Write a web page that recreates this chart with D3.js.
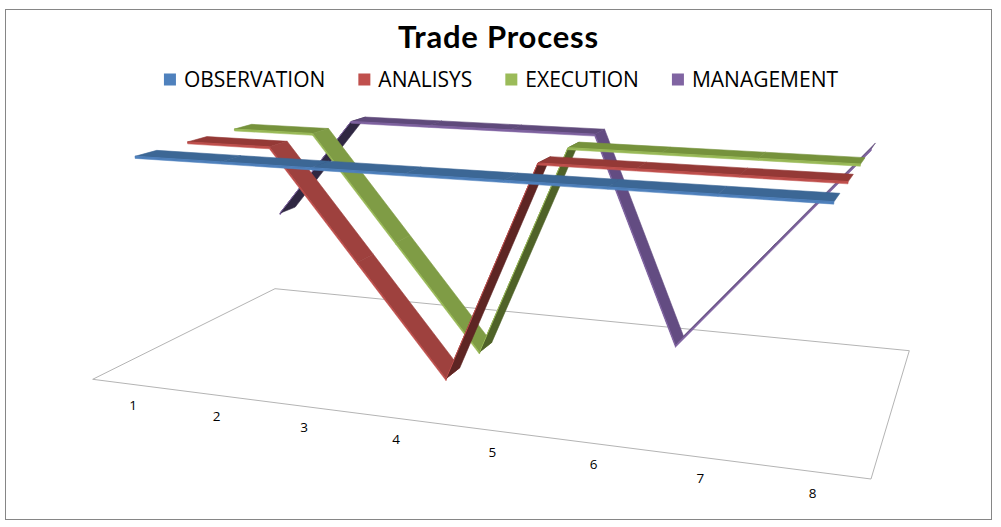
<!DOCTYPE html>
<html>
<head>
<meta charset="utf-8">
<script src="https://cdn.jsdelivr.net/npm/d3@7"></script>
<style>
  body { margin: 0; background: #fff; }
</style>
</head>
<body>
<div id="container"></div>
<script>
let w = 1001;
let h = 527;

// chart data
let categories = ["1", "2", "3", "4", "5", "6", "7", "8"];
let seriesNames = ["OBSERVATION", "ANALISYS", "EXECUTION", "MANAGEMENT"];
let observation = [10, 10, 10, 10, 10, 10, 10, 10];
let analisys = [10, 10, 5, 0, 10, 10, 10, 10];
let execution = [10, 10, 5, 0, 10, 10, 10, 10];
let management = [5, 10, 10, 10, 10, 0, 5, 10];

let legendColors = ["#4F81BD", "#C0504D", "#9BBB59", "#8064A2"];
let flatColors = ["#3C6795", "#943936", "#76923C", "#5F4A7B"];
let litColors = ["#4372A4", "#9E413E", "#7F9C45", "#634C82"];
let darkColors = ["#243F60", "#5E2523", "#4F6228", "#2F2742"];

let allSeries = [observation, analisys, execution, management];

let viz = d3.select("#container")
  .append("svg")
    .attr("width", w)
    .attr("height", h)
    .style("background-color", "#fff")
;

// outer border
viz.append("rect")
    .attr("x", 5.5)
    .attr("y", 9.5)
    .attr("width", 986)
    .attr("height", 510)
    .attr("fill", "none")
    .attr("stroke", "#868686")
;

// floor of the 3d box on screen: front-left, front-right, back-right, back-left
let floorCorners = [[92.7, 379.3], [871, 479], [909.3, 350.7], [275, 288.7]];
// where upright lines meet far below
let vanish = [487, 5590];
// ribbon thickness, in value units
let thick = 0.09;

function squareToQuad(p) {
  let x0 = p[0][0], y0 = p[0][1], x1 = p[1][0], y1 = p[1][1];
  let x2 = p[2][0], y2 = p[2][1], x3 = p[3][0], y3 = p[3][1];
  let sx = x0 - x1 + x2 - x3, sy = y0 - y1 + y2 - y3;
  let dx1 = x1 - x2, dx2 = x3 - x2, dy1 = y1 - y2, dy2 = y3 - y2;
  let det = dx1 * dy2 - dx2 * dy1;
  let g = (sx * dy2 - dx2 * sy) / det;
  let hh = (dx1 * sy - sx * dy1) / det;
  return {
    a: x1 - x0 + g * x1, b: x3 - x0 + hh * x3, c: x0,
    d: y1 - y0 + g * y1, e: y3 - y0 + hh * y3, f: y0,
    g: g, h: hh
  };
}
let H = squareToQuad(floorCorners);

let xScale = d3.scaleBand().domain(categories).range([0, 1]);
let zScale = d3.scaleBand().domain(seriesNames).range([0, 1])
    .paddingInner(0.6).paddingOuter(0.3);
let yScale = d3.scaleLinear().domain([0, 10]).range([0, -0.0407]);

// u across categories, v into depth, val is the value
function project(u, val, v) {
  let t = yScale(val);
  let hw = H.g * u + H.h * v + 1 + t;
  let hx = H.a * u + H.b * v + H.c + t * vanish[0];
  let hy = H.d * u + H.e * v + H.f + t * vanish[1];
  return [hx / hw, hy / hw, hw];
}

function poly(pts) {
  return "M" + pts.map(p => p[0] + "," + p[1]).join("L") + "Z";
}

// floor
viz.append("path")
    .attr("d", poly([[0, 0], [1, 0], [1, 1], [0, 1]].map(c => project(c[0], 0, c[1]))))
    .attr("fill", "none")
    .attr("stroke", "#B4B4B4")
    .attr("stroke-width", 1)
;

// category labels along front edge
viz.selectAll(".catlabel").data(categories).enter()
  .append("text")
    .attr("class", "catlabel")
    .attr("x", d => project(xScale(d) + xScale.bandwidth() / 2, 0, 0)[0])
    .attr("y", d => project(xScale(d) + xScale.bandwidth() / 2, 0, 0)[1] + 21)
    .attr("text-anchor", "middle")
    .attr("dominant-baseline", "central")
    .style("font-family", "'Open Sans', sans-serif")
    .style("font-size", "13.5px")
    .attr("fill", "#000")
    .text(d => d)
;

// ribbons, back series first
let ribbons = viz.append("g").attr("class", "ribbons");
for (let s = allSeries.length - 1; s >= 0; s--) {
  let vals = allSeries[s];
  let v0 = zScale(seriesNames[s]);
  let v1 = v0 + zScale.bandwidth();
  let segs = [];
  for (let i = 0; i < vals.length - 1; i++) {
    let u0 = xScale(categories[i]) + xScale.bandwidth() / 2;
    let u1 = xScale(categories[i + 1]) + xScale.bandwidth() / 2;
    let A = project(u0, vals[i], v0);
    let B = project(u1, vals[i + 1], v0);
    let C = project(u1, vals[i + 1], v1);
    let D = project(u0, vals[i], v1);
    let B2 = project(u1, vals[i + 1] - thick, v0);
    let A2 = project(u0, vals[i] - thick, v0);
    let pts = [A, B, C, D];
    let area = 0;
    for (let k = 0; k < 4; k++) {
      let p = pts[k], q = pts[(k + 1) % 4];
      area += p[0] * q[1] - q[0] * p[1];
    }
    let fill;
    if (area > 0) fill = darkColors[s];
    else if (vals[i + 1] < vals[i]) fill = litColors[s];
    else fill = flatColors[s];
    segs.push({pts: pts, side: [A, B, B2, A2], fill: fill, depth: (A[2] + B[2] + C[2] + D[2]) / 4});
  }
  segs.sort((p, q) => q.depth - p.depth);

  let g = ribbons.append("g").attr("class", "series");
  let segG = g.selectAll(".seg").data(segs).enter()
    .append("g")
      .attr("class", "seg")
  ;
  segG.append("path")
      .attr("d", d => poly(d.side))
      .attr("fill", legendColors[s])
      .attr("stroke", legendColors[s])
      .attr("stroke-width", 0.5)
  ;
  segG.append("path")
      .attr("d", d => poly(d.pts))
      .attr("fill", d => d.fill)
      .attr("stroke", d => d.fill)
      .attr("stroke-width", 0.6)
      .attr("stroke-linejoin", "round")
  ;
  segG.append("path")
      .attr("d", d => "M" + d.pts[0][0] + "," + d.pts[0][1] + "L" + d.pts[1][0] + "," + d.pts[1][1])
      .attr("stroke", legendColors[s])
      .attr("stroke-width", 1)
      .attr("fill", "none")
  ;
}

// title
viz.append("text")
    .attr("x", 498)
    .attr("y", 48)
    .attr("text-anchor", "middle")
    .attr("textLength", 200)
    .style("font-family", "Lato, sans-serif")
    .style("font-weight", "bold")
    .style("font-size", "31px")
    .attr("fill", "#000")
    .text("Trade Process")
;

// legend
let legend = viz.append("g").attr("class", "legend");
let items = legend.selectAll(".item").data(seriesNames).enter()
  .append("g")
    .attr("class", "item")
;
items.append("rect")
    .attr("width", 12)
    .attr("height", 12)
    .attr("y", 73.5)
    .attr("fill", (d, i) => legendColors[i])
;
items.append("text")
    .attr("y", 87)
    .style("font-family", "'Open Sans', sans-serif")
    .style("font-size", "21px")
    .attr("fill", "#000")
    .text(d => d)
;
let widths = [];
items.select("text").each(function() { widths.push(this.getComputedTextLength()); });
let total = d3.sum(widths) + widths.length * 20 + (widths.length - 1) * 33;
let cursor = 501 - total / 2;
items.each(function(d, i) {
  let item = d3.select(this);
  item.select("rect").attr("x", cursor);
  item.select("text").attr("x", cursor + 20);
  cursor += 20 + widths[i] + 33;
});
</script>
</body>
</html>
